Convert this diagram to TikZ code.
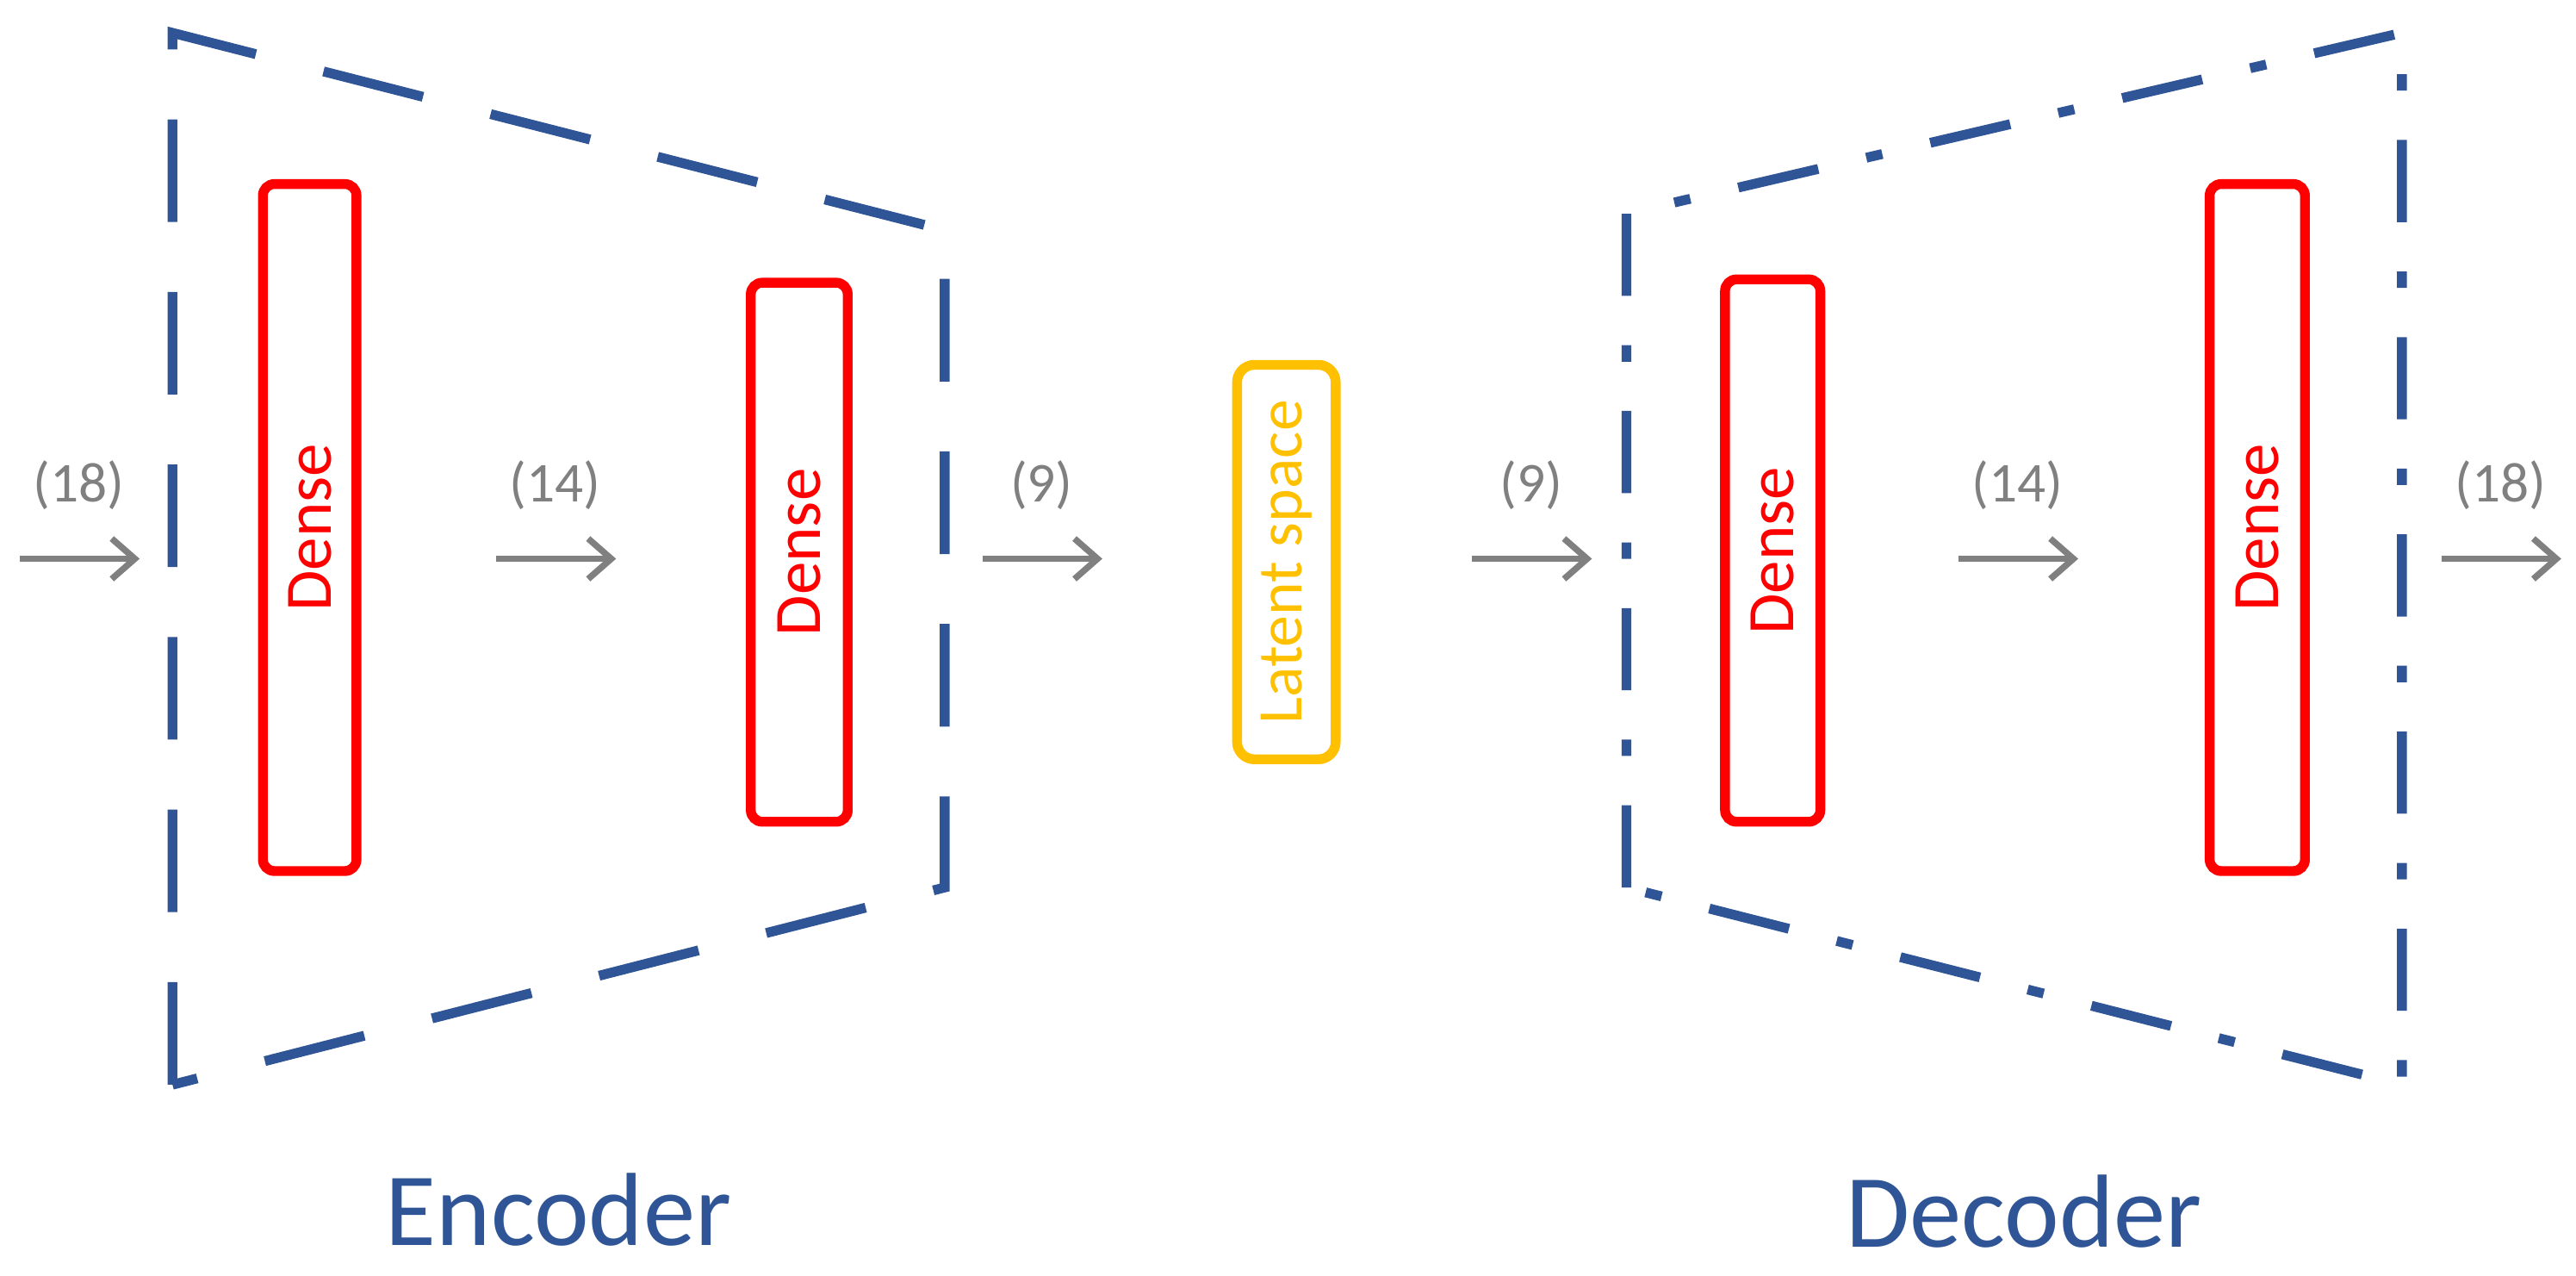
\documentclass[tikz,border=0pt]{standalone}
\usepackage{fontspec}
\setmainfont{Carlito}
\usetikzlibrary{arrows.meta}
\definecolor{navy}{HTML}{2F5597}
\definecolor{lat}{HTML}{FFC000}
\definecolor{arr}{HTML}{808080}
\begin{document}
\begin{tikzpicture}[x=0.02cm,y=-0.02cm,
  frame/.style={draw=navy,line width=3.4pt},
  layer/.style={draw=red,line width=3.4pt,rounded corners=4pt},
  lab/.style={text=red,font=\fontsize{23}{25}\selectfont,rotate=90},
  ar/.style={draw=arr,line width=2.2pt,-{Straight Barb[length=8pt,width=14pt]}},
  dim/.style={text=arr,font=\fontsize{19.5}{21}\selectfont}]
\useasboundingbox (0,0) rectangle (1568,776);
\draw[frame,dash pattern=on 1.25cm off 0.85cm] (105,660) -- (105,20) -- (575,140) -- (575,540) -- cycle;
\draw[frame,dash pattern=on 1.0cm off 0.6cm on 0.2cm off 0.6cm] (990,540) -- (990,130) -- (1462,20) -- (1462,660) -- cycle;
\draw[layer] (160,112) rectangle (217,530) node[lab,midway] (d1) {Dense};
\draw[layer] (457,172) rectangle (516,500) node[lab,midway] (d2) {Dense};
\draw[layer] (1050,170) rectangle (1108,500) node[lab,midway] (d3) {Dense};
\draw[layer] (1345,112) rectangle (1403,530) node[lab,midway] (d4) {Dense};
\draw[draw=lat,line width=3.4pt,rounded corners=6pt] (753,222) rectangle (813,462) node[midway,rotate=90,text=lat,font=\fontsize{22}{24}\selectfont] (ls) {Latent space};
\foreach \x/\t [count=\i] in {12/(18),302/(14),598/(9),896/(9),1192/(14),1486/(18)}{
  \coordinate (s\i) at (\x,340);
  \coordinate (e\i) at (\x+73,340);
  \draw[ar] (s\i) -- (e\i);
  \node[dim] (t\i) at (\x+36,295) {\t};
}
\node[text=navy,font=\fontsize{36}{38}\selectfont] (enc) at (340,736) {Encoder};
\node[text=navy,font=\fontsize{36}{38}\selectfont] (dec) at (1232,737) {Decoder};
\end{tikzpicture}
\end{document}
